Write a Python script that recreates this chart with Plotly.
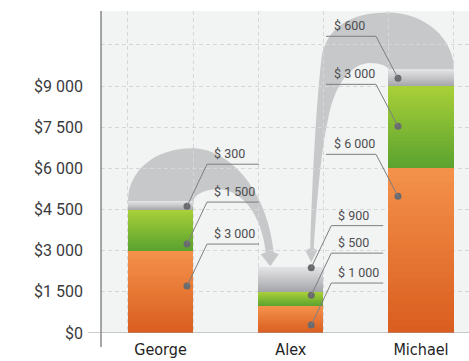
import plotly.graph_objects as go

# ---------------- data ----------------
names = ["George", "Alex", "Michael"]
orange_vals = [3000, 1000, 6000]
green_vals = [1500, 500, 3000]
gray_vals = [300, 900, 600]
y_tickvals = [0, 1500, 3000, 4500, 6000, 7500, 9000]
y_ticktext = ["$0", "$1 500", "$3 000", "$4 500", "$6 000", "$7 500", "$9 000"]

# ---------------- styling ----------------
W, H = 469, 361
ML, MR, MT, MB = 101, 0, 11, 28
PW, PH = W - ML - MR, H - MT - MB
XR = [-0.4568, 2.3685]
YR = [0, 11733]
BAR_W = 0.5
GRID = "#d6d7d9"
BG = "#f2f3f3"
ARROW = "#c7c8ca"
DOT = "#6a6b6e"
LEAD = "#7d7e81"

series = [
    ("orange", orange_vals, "#d95d1e", "#f4924b"),
    ("green", green_vals, "#5aa22f", "#a9d038"),
    ("gray", gray_vals, "#a4a5a9", "#e3e3e5"),
]
# where on each segment the label dot sits (fraction of segment height)
dot_frac = {
    "orange": [0.57, 0.29, 0.83],
    "green": [0.16, 0.76, 0.51],
    "gray": [0.40, 0.98, 0.47],
}
dot_dx_px = [26.5, 20.5, -23]      # horizontal dot offset from bar centre
label_side = [1, 1, -1]            # labels to the right (1) or left (-1)

sx = PW / (XR[1] - XR[0])          # px per x unit
sy = PH / (YR[1] - YR[0])          # px per y unit


def off(anchor, dxp, dyp):
    """anchor in data units, offsets in screen px (dy positive = down)"""
    return (anchor[0] + dxp / sx, anchor[1] - dyp / sy)


def hexmix(c1, c2, t):
    a = [int(c1[i:i + 2], 16) for i in (1, 3, 5)]
    b = [int(c2[i:i + 2], 16) for i in (1, 3, 5)]
    return "#%02x%02x%02x" % tuple(round(a[j] + (b[j] - a[j]) * t) for j in range(3))


fig = go.Figure()

# cumulative bases
bases = []
cum = [0, 0, 0]
for _, vals, _, _ in series:
    bases.append(list(cum))
    cum = [cum[i] + vals[i] for i in range(3)]
totals = cum

xs = list(range(len(names)))

# main data bars
for (nm, vals, cb, ct), base in zip(series, bases):
    fig.add_trace(go.Bar(x=xs, y=vals, base=base, width=BAR_W, name=nm,
                         marker=dict(color=hexmix(cb, ct, 0.5), line=dict(width=0)),
                         showlegend=False, hoverinfo="skip"))

# vertical gradient overlay (slices of the same bars)
N = 24
for (nm, vals, cb, ct), base in zip(series, bases):
    for k in range(N):
        ys = [min(v / N * 1.6, v - v * k / N) for v in vals]
        bs = [base[i] + vals[i] * k / N for i in range(3)]
        fig.add_trace(go.Bar(x=xs, y=ys, base=bs, width=BAR_W,
                             marker=dict(color=hexmix(cb, ct, (k + 0.5) / N), line=dict(width=0)),
                             showlegend=False, hoverinfo="skip"))

# ---------------- arrows between bar tops ----------------
G = (xs[0], totals[0])
A = (xs[1], totals[1])
M = (xs[2], totals[2])


def P(anchor, dx, dy):
    x, y = off(anchor, dx, dy)
    return f"{x:.5f},{y:.3f}"


arrow1 = ("M" + P(G, -32.5, 0) +
          " C" + P(G, -32.5, -31) + " " + P(G, -5, -53) + " " + P(G, 31.5, -53) +
          " C" + P(G, 67, -53) + " " + P(A, -24, -80) + " " + P(A, -17, -15) +
          " L" + P(A, -12, -13) + " L" + P(A, -20.5, -1) + " L" + P(A, -30, -13) +
          " L" + P(A, -25, -15) +
          " C" + P(A, -29, -50) + " " + P(A, -47, -78) + " " + P(G, 57, -12) +
          " C" + P(G, 43, -12) + " " + P(G, 34, -6) + " " + P(G, 32.5, 0) + " Z")

arrow2 = ("M" + P(M, 33, 0) +
          " C" + P(M, 33, -30) + " " + P(M, 5, -57) + " " + P(M, -33, -57) +
          " C" + P(M, -71, -57) + " " + P(M, -93, -42) + " " + P(M, -99, -15) +
          " C" + P(A, 25.5, -167) + " " + P(A, 21.5, -87) + " " + P(A, 19.5, -19) +
          " L" + P(A, 14.5, -17) + " L" + P(A, 20.5, -5) + " L" + P(A, 26.5, -17) +
          " L" + P(A, 23, -19) +
          " C" + P(A, 26.5, -72) + " " + P(M, -99.75, 80.4) + " " + P(M, -92.75, 48.4) +
          " C" + P(M, -85.75, 12.4) + " " + P(M, -68.75, -6.6) + " " + P(M, -50.75, -6.6) +
          " C" + P(M, -40.75, -6.6) + " " + P(M, -33.75, -3.6) + " " + P(M, -32.5, 0) + " Z")

shapes = []
for pth in (arrow1, arrow2):
    shapes.append(dict(type="path", path=pth, xref="x", yref="y", layer="below",
                       fillcolor=ARROW, line=dict(width=0)))

# axis lines
shapes.append(dict(type="line", xref="paper", yref="paper", x0=0, x1=0,
                   y0=-14 / PH, y1=1, line=dict(color="#4f5052", width=1), layer="above"))
shapes.append(dict(type="line", xref="paper", yref="y", x0=-13 / PW, x1=1,
                   y0=0, y1=0, line=dict(color="#9a9b9d", width=1.2), layer="above"))

# ---------------- value labels ----------------
annotations = []
dot_x, dot_y = [], []
for (nm, vals, _, _), base in zip(series, bases):
    for i in range(3):
        dx = xs[i] + dot_dx_px[i] / sx
        dy = base[i] + dot_frac[nm][i] * vals[i]
        dot_x.append(dx)
        dot_y.append(dy)
        s = label_side[i]
        if s > 0:
            path = "M0,0 L20,42 L72,42"
            xshift = 25
        else:
            path = "M0,0 L-22,42 L-72,42"
            xshift = -66
        shapes.append(dict(type="path", path=path, xref="x", yref="y",
                           xsizemode="pixel", ysizemode="pixel", xanchor=dx, yanchor=dy,
                           line=dict(color=LEAD, width=1), layer="above"))
        annotations.append(dict(x=dx, y=dy, xref="x", yref="y", showarrow=False,
                                text="$ " + f"{vals[i]:,}".replace(",", " "),
                                xanchor="left", yanchor="bottom", xshift=xshift, yshift=43,
                                font=dict(family="Roboto", size=12.5, color="#4d4e50")))

fig.add_trace(go.Scatter(x=dot_x, y=dot_y, mode="markers",
                         marker=dict(size=7, color=DOT, line=dict(width=0)),
                         showlegend=False, hoverinfo="skip", cliponaxis=False))

edges = []
for i in xs:
    edges += [i - BAR_W / 2, i + BAR_W / 2]

fig.update_layout(
    width=W, height=H,
    margin=dict(l=ML, r=MR, t=MT, b=MB),
    paper_bgcolor="white", plot_bgcolor=BG,
    barmode="overlay", bargap=0,
    shapes=shapes, annotations=annotations,
    showlegend=False,
    xaxis=dict(range=XR, tickmode="array", tickvals=xs, ticktext=names,
               showgrid=False, zeroline=False, showline=False, ticks="",
               tickfont=dict(family="Liberation Sans Narrow, DejaVu Sans Condensed", size=16, color="#222"),
               ticklabelstandoff=5,
               minor=dict(tickvals=edges, showgrid=True, gridcolor=GRID, gridwidth=1,
                          griddash="4px,3px", ticks="")),
    yaxis=dict(range=YR, tickmode="array", tickvals=y_tickvals, ticktext=y_ticktext,
               showgrid=True, gridcolor=GRID, gridwidth=1, griddash="4px,3px",
               zeroline=False, showline=False, ticks="",
               tickfont=dict(family="Roboto", size=16, color="#3a3a3c"),
               ticklabelstandoff=17,
               minor=dict(tickvals=[10500], showgrid=True, gridcolor=GRID, gridwidth=1,
                          griddash="4px,3px", ticks="")),
)

fig.write_html("out.html", config={"displayModeBar": False},
               post_script="document.body.style.margin='0';document.body.style.padding='0';")
